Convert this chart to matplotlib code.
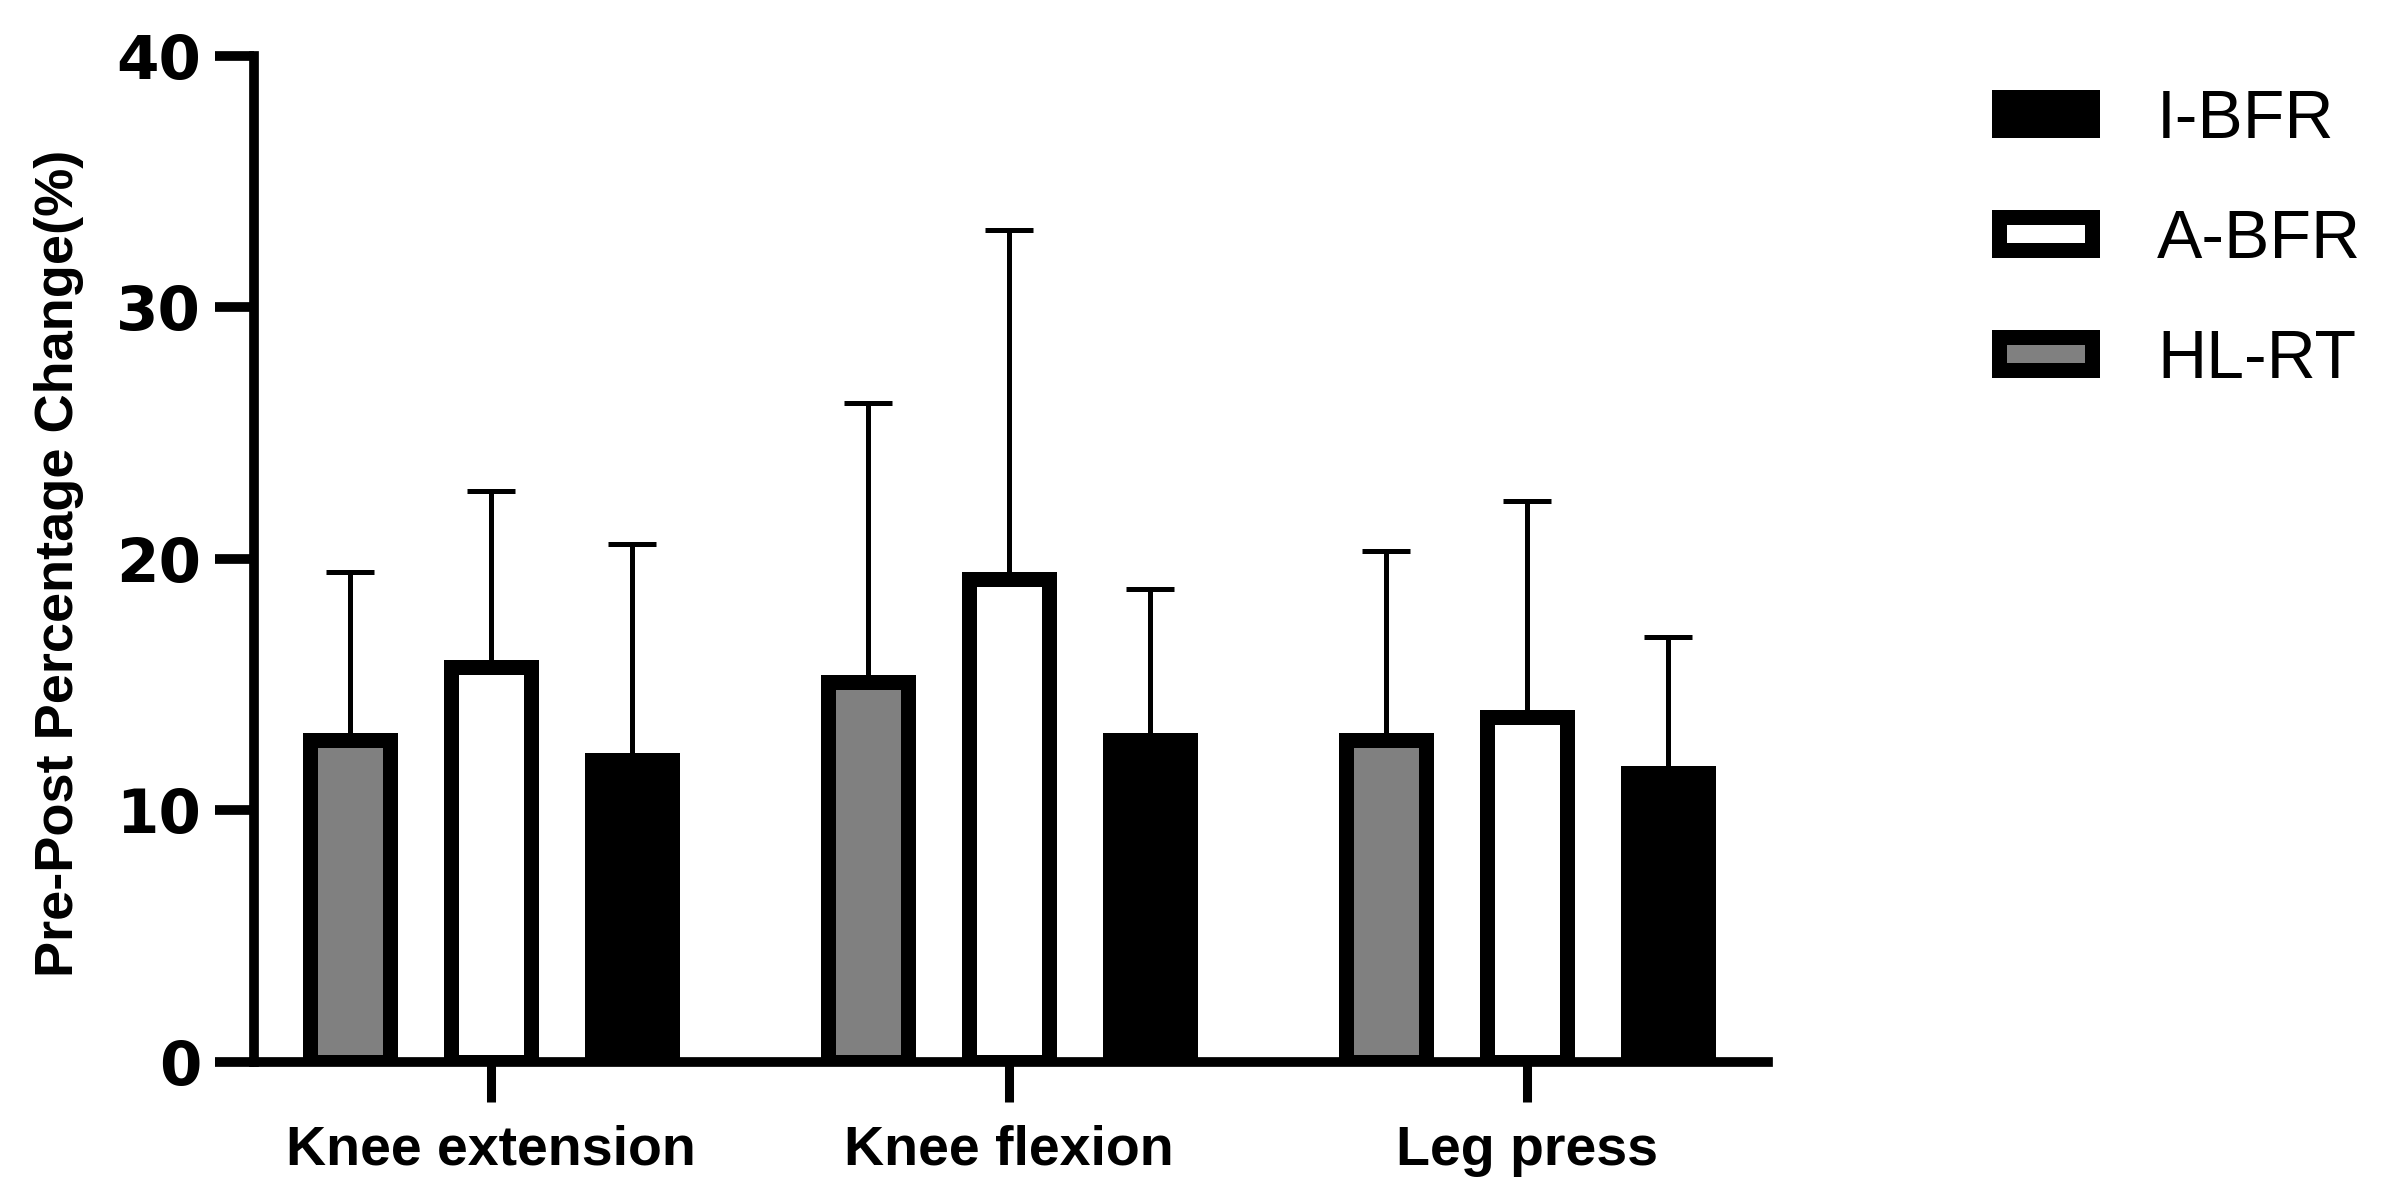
import matplotlib
matplotlib.use("Agg")
import matplotlib.pyplot as plt
from matplotlib import font_manager
import numpy as np

# data
exercises = ["Knee extension", "Knee flexion", "Leg press"]
groups = ["HL-RT", "A-BFR", "I-BFR"]
hlrt_mean = [12.8, 15.1, 12.8]
hlrt_sd = [6.7, 11.1, 7.5]
abfr_mean = [15.7, 19.2, 13.7]
abfr_sd = [7.0, 13.9, 8.6]
ibfr_mean = [12.0, 12.8, 11.5]
ibfr_sd = [8.6, 6.0, 5.4]
y_ticks = [0, 10, 20, 30, 40]


def has_font(name):
    try:
        font_manager.findfont(name, fallback_to_default=False)
        return True
    except ValueError:
        return False


narrow = has_font("Liberation Sans Narrow")
ylab_family = "Liberation Sans Narrow" if narrow else "Liberation Sans"
ylab_size = 46 if narrow else 39

fig = plt.figure(figsize=(23.86, 12.04), dpi=100)
ax = fig.add_axes([0.10645, 0.11794, 0.63454, 0.83555])

x = np.arange(len(exercises))
offset = 0.2722
width = 0.1544
edge_lw = 10.8

series = [
    (hlrt_mean, hlrt_sd, "#808080", "HL-RT", -offset),
    (abfr_mean, abfr_sd, "white", "A-BFR", 0.0),
    (ibfr_mean, ibfr_sd, "black", "I-BFR", offset),
]

handles = {}
for means, sds, color, label, dx in series:
    # error bars first, bar drawn on top hides the lower half
    ax.errorbar(x + dx, means, yerr=[np.zeros(len(sds)), sds], fmt="none",
                ecolor="black", elinewidth=3.6, capsize=17, capthick=3.6,
                zorder=1)
    b = ax.bar(x + dx, means, width=width, color=color, edgecolor="black",
               linewidth=edge_lw, label=label, zorder=2)
    handles[label] = b

ax.set_xlim(-0.4575, 2.465)
ax.set_ylim(0, 40)
ax.set_yticks(y_ticks)
ax.set_xticks(x)
ax.set_xticklabels(exercises, fontfamily="Liberation Sans", fontweight="bold",
                   fontsize=40)
ax.set_yticklabels([str(t) for t in y_ticks], fontfamily="DejaVu Sans",
                   fontweight="bold", fontsize=44)

for side in ["top", "right"]:
    ax.spines[side].set_visible(False)
for side in ["left", "bottom"]:
    ax.spines[side].set_linewidth(7)
    ax.spines[side].set_zorder(3)
ax.tick_params(axis="y", length=28, width=7, pad=10)
ax.tick_params(axis="x", length=29, width=6.5, pad=16)

ax.set_ylabel("Pre-Post Percentage Change(%)", fontfamily=ylab_family,
              fontweight="bold", fontsize=ylab_size)
ax.yaxis.set_label_coords(-0.129, 0.496)
ax.yaxis.label.set_verticalalignment("center")

order = ["I-BFR", "A-BFR", "HL-RT"]
fig.legend([handles[k] for k in order], order, loc="upper left",
           bbox_to_anchor=(0.8376, 0.927), frameon=False, borderpad=0,
           borderaxespad=0, handlelength=1.38, handleheight=0.37,
           handletextpad=0.95, labelspacing=0.82,
           prop={"family": "Liberation Sans", "size": 49})

fig.savefig("out.png", dpi=100)
